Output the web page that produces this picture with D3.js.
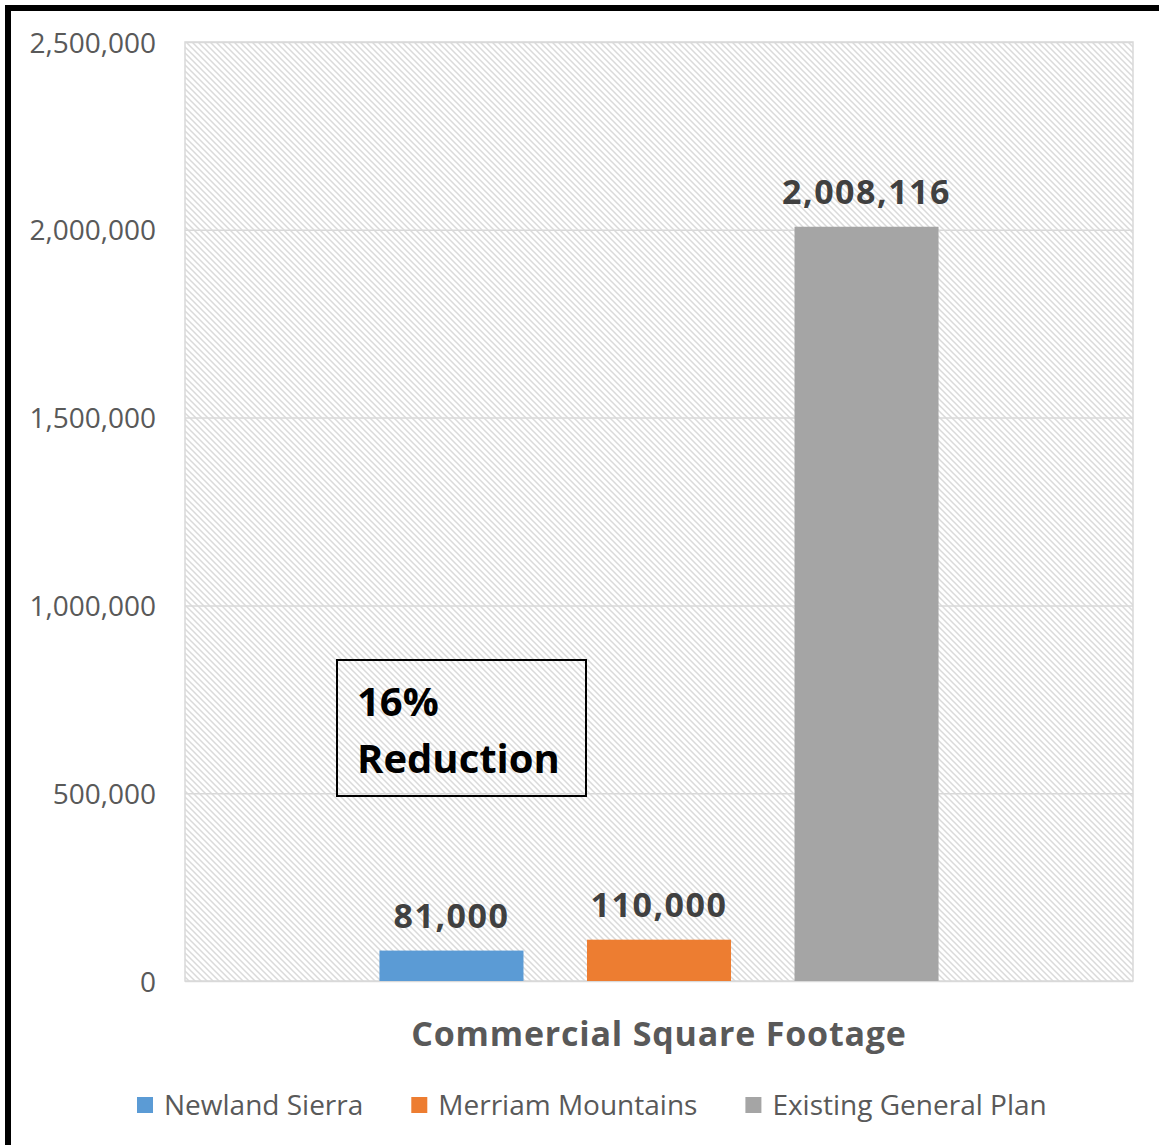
<!DOCTYPE html>
<html>
<head>
<meta charset="utf-8">
<script src="https://cdn.jsdelivr.net/npm/d3@7"></script>
<style>
  html, body { margin: 0; padding: 0; background: #fff; }
  svg { display: block; }
  text { font-family: "Open Sans", "Noto Sans", sans-serif; }
</style>
</head>
<body>
<svg id="chart" width="1159" height="1145"></svg>
<script>
// ---- data ----
const seriesNames = ["Newland Sierra", "Merriam Mountains", "Existing General Plan"];
const seriesValues = [81000, 110000, 2008116];
const seriesColors = ["#5b9bd5", "#ed7d31", "#a5a5a5"];
const yTicks = [0, 500000, 1000000, 1500000, 2000000, 2500000];
const categoryTitle = "Commercial Square Footage";
const noteLines = ["16%", "Reduction"];

const svg = d3.select("#chart");
const W = 1159, H = 1145;
const plot = { left: 185, right: 1133, top: 42, bottom: 981 };

// pattern
const defs = svg.append("defs");
const pat = defs.append("pattern")
  .attr("id", "hatch")
  .attr("patternUnits", "userSpaceOnUse")
  .attr("width", 6).attr("height", 6);
pat.append("rect").attr("width", 6).attr("height", 6).attr("fill", "#ffffff");
pat.append("path")
  .attr("d", "M-1,-1 L7,7 M-1,5 L1,7 M5,-1 L7,1")
  .attr("stroke", "#dadada").attr("stroke-width", 1.5).attr("fill", "none");

// frame
svg.append("rect").attr("x", 0).attr("y", 0).attr("width", W).attr("height", H).attr("fill", "#fff");
svg.append("path")
  .attr("d", `M8,${H} L8,8 L${W},8`)
  .attr("stroke", "#000").attr("stroke-width", 6).attr("fill", "none");

// scales
const y = d3.scaleLinear().domain([0, 2500000]).range([plot.bottom, plot.top]);
const x = d3.scaleBand().domain(seriesNames)
  .range([plot.left, plot.right])
  .paddingInner(0.306).paddingOuter(0.937);

// plot area background
svg.append("rect")
  .attr("x", plot.left).attr("y", plot.top)
  .attr("width", plot.right - plot.left).attr("height", plot.bottom - plot.top)
  .attr("fill", "url(#hatch)")
  .attr("stroke", "#d9d9d9").attr("stroke-width", 1.5);

// gridlines + y labels
const yAxis = d3.axisLeft(y).tickValues(yTicks)
  .tickFormat(d3.format(","))
  .tickSize(-(plot.right - plot.left)).tickPadding(28);
const gy = svg.append("g").attr("transform", `translate(${plot.left},0)`).call(yAxis);
gy.select(".domain").remove();
gy.selectAll(".tick line").attr("stroke", "#d9d9d9").attr("stroke-width", 1.5);
gy.selectAll(".tick text")
  .attr("fill", "#595959").attr("font-size", 28).attr("dy", "0.36em")
  .attr("x", -29);

// bars
const data = seriesNames.map((n, i) => ({ name: n, value: seriesValues[i], color: seriesColors[i] }));
svg.append("g").selectAll("rect").data(data).join("rect")
  .attr("x", d => x(d.name))
  .attr("y", d => y(d.value))
  .attr("width", x.bandwidth())
  .attr("height", d => y(0) - y(d.value))
  .attr("fill", d => d.color);

// data labels
svg.append("g").selectAll("text").data(data).join("text")
  .attr("x", d => x(d.name) + x.bandwidth() / 2)
  .attr("y", d => y(d.value) - 23)
  .attr("text-anchor", "middle")
  .attr("font-size", 34).attr("font-weight", "bold")
  .attr("letter-spacing", 1.5)
  .attr("fill", "#404040")
  .text(d => d3.format(",")(d.value));

// note box
svg.append("rect")
  .attr("x", 337).attr("y", 660).attr("width", 249).attr("height", 136)
  .attr("fill", "none").attr("stroke", "#000").attr("stroke-width", 2);
svg.append("g").selectAll("text").data(noteLines).join("text")
  .attr("x", 357)
  .attr("y", (d, i) => 716 + i * 57)
  .attr("font-size", 40).attr("font-weight", "bold").attr("fill", "#000")
  .text(d => d);

// category title
svg.append("text")
  .attr("x", (plot.left + plot.right) / 2)
  .attr("y", 1046)
  .attr("text-anchor", "middle")
  .attr("font-size", 34).attr("font-weight", "bold")
  .attr("letter-spacing", 0.8)
  .attr("fill", "#595959")
  .text(categoryTitle);

// legend
const lg = svg.append("g");
let lx = 137;
data.forEach(d => {
  lg.append("rect").attr("x", lx).attr("y", 1097).attr("width", 16).attr("height", 16).attr("fill", d.color);
  const t = lg.append("text").attr("x", lx + 27).attr("y", 1115)
    .attr("font-size", 28).attr("fill", "#595959").text(d.name);
  lx += 27 + t.node().getComputedTextLength() + 48;
});
</script>
</body>
</html>
